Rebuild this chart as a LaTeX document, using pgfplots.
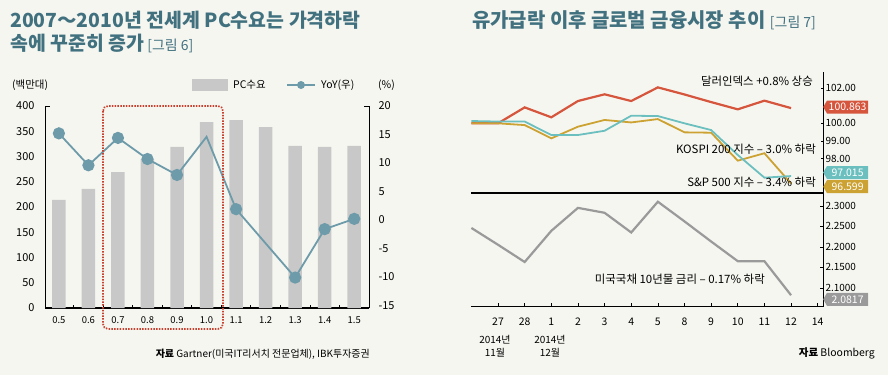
\documentclass[border=0pt]{standalone}
\usepackage{pgfplots}
\pgfplotsset{compat=1.18}
\usepackage{fontspec}
\setmainfont{Noto Sans CJK KR}
\usetikzlibrary{shapes.symbols}
\definecolor{bg}{HTML}{F6F6F1}
\definecolor{ttl}{HTML}{41717F}
\definecolor{barg}{HTML}{C8C8C8}
\definecolor{yoy}{HTML}{6E9BAA}
\definecolor{dred}{HTML}{C8402E}
\definecolor{usd}{HTML}{D5553D}
\definecolor{ksp}{HTML}{6CBFBF}
\definecolor{spx}{HTML}{CCA233}
\definecolor{ust}{HTML}{9A9A9A}
\pgfplotsset{/pgf/number format/assume math mode=true}
\newcommand{\fs}[1]{\fontsize{#1}{#1}\selectfont}
\begin{document}
\begin{tikzpicture}[x=1bp,y=1bp]
\useasboundingbox (0,0) rectangle (888,375);
\fill[bg] (0,0) rectangle (888,375);
% ---------- titles
\node[anchor=base west, text=ttl, inner sep=0, font=\fs{19.5}\bfseries] at (10,348) {2007～2010년 전세계 PC수요는 가격하락};
\node[anchor=base west, text=ttl, inner sep=0, font=\fs{19.5}\bfseries] at (10,325) {속에 꾸준히 증가\,{\mdseries\fs{14}[그림 6]}};
\node[anchor=base west, text=ttl, inner sep=0, font=\fs{20}\bfseries] at (472,348) {유가급락 이후 글로벌 금융시장 추이 {\mdseries\fs{14}[그림 7]}};
% ---------- left legend / units
\node[anchor=west, inner sep=0, font=\fs{10.5}] at (12,290) {(백만대)};
\node[anchor=west, inner sep=0, font=\fs{10.5}] at (378,290) {(\%)};
\fill[barg] (192,284) rectangle (228,296);
\node[anchor=west, inner sep=0, font=\fs{10.5}] at (233,290) {PC수요};
\draw[yoy, line width=1.8bp] (287,290) -- (315,290);
\fill[yoy] (301,290) circle (4bp);
\node[anchor=west, inner sep=0, font=\fs{10.5}] at (321,290) {YoY(우)};
% ---------- left chart: bars
\begin{axis}[at={(45bp,67bp)}, anchor=south west, scale only axis,
  width=324bp, height=202bp,
  xmin=-0.47, xmax=10.5, ymin=0, ymax=400,
  axis x line*=bottom, axis y line*=left,
  x axis line style={line width=2.4bp, black},
  y axis line style={line width=0.6bp, black},
  xtick={0,...,10},
  xticklabels={0.5,0.6,0.7,0.8,0.9,1.0,1.1,1.2,1.3,1.4,1.5},
  ytick={0,50,...,400},
  major tick length=0pt,
  extra x ticks={0.5,1.5,...,9.5}, extra x tick labels={},
  extra x tick style={major tick length=3bp, tick align=inside, tick style={line width=0.8bp, black}},
  extra y ticks={400}, extra y tick labels={},
  extra y tick style={major tick length=5bp, tick align=inside, tick style={line width=0.6bp, black}},
  x tick label style={font=\fs{9.5}, yshift=-5bp},
  y tick label style={font=\fs{11}, xshift=-7bp},
  clip=false]
\addplot[ybar, bar width=13.5bp, fill=barg, draw=none] coordinates {
 (0,214) (1,236) (2,269) (3,295) (4,319) (5,368) (6,372) (7,358) (8,321) (9,319) (10,321)};
\end{axis}
% ---------- left chart: YoY
\begin{axis}[at={(45bp,67bp)}, anchor=south west, scale only axis,
  width=324bp, height=202bp,
  xmin=-0.47, xmax=10.5, ymin=-15.44, ymax=20,
  axis x line=none, axis y line*=right,
  y axis line style={line width=0.6bp, black},
  ytick={-15,-10,...,20},
  major tick length=0pt,
  extra y ticks={20}, extra y tick labels={},
  extra y tick style={major tick length=5bp, tick align=inside, tick style={line width=0.6bp, black}},
  y tick label style={font=\fs{11}, xshift=6bp},
  clip=false]
\addplot[yoy, line width=1.8bp, mark=*, mark size=5.2bp, mark options={fill=yoy, draw=yoy},
  mark indices={1,2,3,4,5,7,9,10,11}] coordinates {
 (0,15.2) (1,9.6) (2,14.4) (3,10.7) (4,7.9) (5,14.6) (6,1.9) (7,-4.1) (8,-10.1) (9,-1.6) (10,0.2)};
\end{axis}
\draw[dred, line width=1.7bp, dash pattern=on 1.5bp off 1.3bp, rounded corners=5bp] (103,269) rectangle (223,46);
\node[anchor=base east, inner sep=0, font=\fs{10}] at (370,18) {{\bfseries 자료} Gartner(미국IT리서치 전문업체), IBK투자증권};
% ---------- right chart: upper panel
\begin{axis}[at={(471bp,182.3bp)}, anchor=south west, scale only axis,
  width=352bp, height=120.7bp,
  xmin=-1.015, xmax=12.2, ymin=96.08, ymax=102.9,
  axis x line*=bottom, axis y line*=right,
  x axis line style={line width=1.8bp, black},
  y axis line style={line width=0.7bp, black},
  xtick=\empty,
  ytick={98,99,100,102},
  major tick length=2bp, tick align=inside,
  tick style={line width=0.6bp, black},
  y tick label style={font=\fs{10}, xshift=-1bp, /pgf/number format/fixed, /pgf/number format/fixed zerofill, /pgf/number format/precision=2},
  clip=false]
\addplot[usd, line width=2.2bp] coordinates {
 (-1,100.0) (0,100.0) (1,100.90) (2,100.34) (3,101.26) (4,101.64) (5,101.26) (6,102.03) (7,101.63) (8,101.20) (9,100.79) (10,101.28) (11,100.86)};
\addplot[spx, line width=1.8bp] coordinates {
 (-1,100.0) (0,100.0) (1,99.9) (2,99.15) (3,99.81) (4,100.19) (5,100.05) (6,100.24) (7,99.49) (8,99.47) (9,97.89) (10,98.31) (11,96.60)};
\addplot[ksp, line width=1.8bp] coordinates {
 (-1,100.13) (0,100.10) (1,100.10) (2,99.34) (3,99.34) (4,99.58) (5,100.43) (6,100.41) (7,100.0) (8,99.62) (9,98.21) (10,96.93) (11,97.02)};
\end{axis}
% ---------- right chart: lower panel
\begin{axis}[at={(471bp,68.3bp)}, anchor=south west, scale only axis,
  width=352bp, height=114bp,
  xmin=-1.015, xmax=12.2, ymin=2.054, ymax=2.332,
  axis x line*=bottom, axis y line*=right,
  x axis line style={line width=1bp, black},
  y axis line style={line width=0.7bp, black},
  xtick={0,...,12},
  xticklabels={27,28,1,2,3,4,5,8,9,10,11,12,14},
  ytick={2.1,2.15,2.2,2.25,2.3},
  major tick length=3.5bp, tick align=inside,
  tick style={line width=0.6bp, black},
  x tick label style={font=\fs{10.5}, yshift=-8bp},
  y tick label style={font=\fs{10}, xshift=-1bp, /pgf/number format/fixed, /pgf/number format/fixed zerofill, /pgf/number format/precision=4},
  clip=false]
\addplot[ust, line width=2.2bp] coordinates {
 (-1,2.246) (0,2.205) (1,2.163) (2,2.239) (3,2.295) (4,2.283) (5,2.235) (6,2.310) (7,2.262) (8,2.213) (9,2.165) (10,2.165) (11,2.082)};
\end{axis}
% ---------- right chart annotations
\node[anchor=east, inner sep=0, font=\fs{11.5}] at (813,294) {달러인덱스 +0.8\% 상승};
\node[anchor=east, inner sep=0, font=\fs{11.5}] at (816,226) {KOSPI 200 지수 – 3.0\% 하락};
\node[anchor=east, inner sep=0, font=\fs{11.5}] at (816,192.5) {S\&P 500 지수 – 3.4\% 하락};
\node[anchor=east, inner sep=0, font=\fs{11.5}] at (765,95.7) {미국국채 10년물 금리 – 0.17\% 하락};
\tikzset{tag/.style={signal, signal to=west, signal pointer angle=120, fill=#1, text=white, font=\fs{10.5}, inner xsep=1.5bp, inner ysep=0bp, minimum height=13bp, minimum width=45bp, anchor=west}}
\node[tag=usd] at (823,268) {100.863};
\node[tag=ksp] at (823,202.5) {97.015};
\node[tag=spx] at (823,188.3) {96.599};
\node[tag=ust] at (823,75.7) {2.0817};
\node[align=center, inner sep=0, font=\fontsize{10}{12.5}\selectfont] at (495,29) {2014년\\11월};
\node[align=center, inner sep=0, font=\fontsize{10}{12.5}\selectfont] at (550,29) {2014년\\12월};
\node[anchor=east, inner sep=0, font=\fs{10.5}] at (875,22) {{\bfseries 자료} Bloomberg};
\end{tikzpicture}
\end{document}
